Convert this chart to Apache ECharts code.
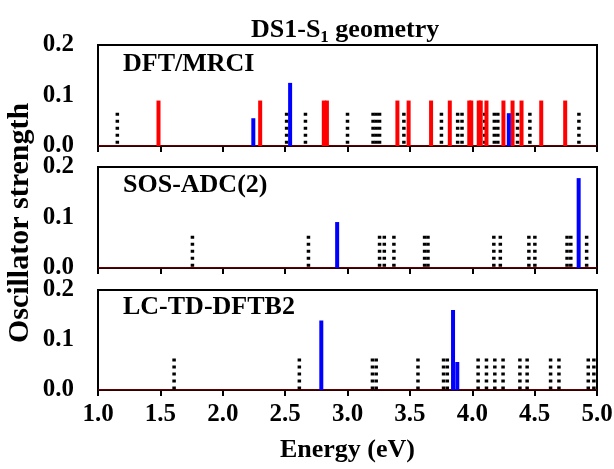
<!DOCTYPE html>
<html>
<head>
<meta charset="utf-8">
<script src="https://cdn.jsdelivr.net/npm/echarts@6/dist/echarts.min.js"></script>
<style>html,body{margin:0;padding:0;background:#fff}#c{width:614px;height:469px}</style>
</head>
<body>
<div id="c"></div>
<script>
// ---- data ----
const xRange = [1.0, 5.0];
const yRange = [0.0, 0.2];
const panelNames = ['DFT/MRCI', 'SOS-ADC(2)', 'LC-TD-DFTB2'];
const yTitle = 'Oscillator strength';
const xTitle = 'Energy (eV)';

// DFT/MRCI
const dftRedE  = [1.485, 2.30, 2.81, 2.835, 3.40, 3.49, 3.67, 3.82, 3.976, 3.992, 4.052, 4.068, 4.114, 4.25, 4.323, 4.395, 4.553, 4.745];
const dftRedF  = [0.09, 0.09, 0.09, 0.09, 0.09, 0.09, 0.09, 0.09, 0.09, 0.09, 0.09, 0.09, 0.09, 0.09, 0.09, 0.09, 0.09, 0.09];
const dftBlueE = [2.245, 2.54, 4.293];
const dftBlueF = [0.055, 0.125, 0.065];
const dftDarkE = [1.155, 2.512, 2.663, 3.0, 3.205, 3.23, 3.257, 3.452, 3.753, 3.883, 3.918, 4.10, 4.177, 4.205, 4.363, 4.462, 4.855];
const dftDarkF = [0.066, 0.066, 0.066, 0.066, 0.066, 0.066, 0.066, 0.066, 0.066, 0.066, 0.066, 0.066, 0.066, 0.066, 0.066, 0.066, 0.066];

// SOS-ADC(2)
const sosBlueE = [2.917, 4.853];
const sosBlueF = [0.091, 0.178];
const sosDarkE = [1.757, 2.687, 3.257, 3.295, 3.372, 3.618, 3.645, 4.173, 4.225, 4.454, 4.502, 4.76, 4.79, 4.917];
const sosDarkF = [0.064, 0.064, 0.064, 0.064, 0.064, 0.064, 0.064, 0.064, 0.064, 0.064, 0.064, 0.064, 0.064, 0.064];

// LC-TD-DFTB2
const lcBlueE = [2.79, 3.846, 3.88];
const lcBlueF = [0.139, 0.16, 0.056];
const lcDarkE = [1.61, 2.614, 3.20, 3.23, 3.565, 3.77, 3.80, 4.047, 4.114, 4.181, 4.247, 4.382, 4.44, 4.628, 4.695, 4.93, 4.975];
const lcDarkF = [0.063, 0.063, 0.063, 0.063, 0.063, 0.063, 0.063, 0.063, 0.063, 0.063, 0.063, 0.063, 0.063, 0.063, 0.063, 0.063, 0.063];

// ---- chart ----
const FONT = '"Liberation Serif", "Times New Roman", serif';
const pairs = (e, f) => e.map((v, i) => [v, f[i]]);

function stick(color, width, dash) {
  return function (params, api) {
    const top = api.coord([api.value(0), api.value(1)]);
    const bot = api.coord([api.value(0), 0]);
    return {
      type: 'line',
      shape: { x1: top[0], y1: top[1], x2: bot[0], y2: bot[1] },
      style: { stroke: color, lineWidth: width, lineDash: dash || null, lineCap: 'butt' }
    };
  };
}

const grids = [
  { left: 98, right: 17, top: 45, height: 101 },
  { left: 98, right: 17, top: 167, height: 101 },
  { left: 98, right: 17, top: 290, height: 100 }
].map(g => Object.assign(g, {
  show: true, borderColor: '#000', borderWidth: 2, backgroundColor: 'transparent',
  containLabel: false, outerBoundsMode: 'none'
}));

const xAxes = [0, 1, 2].map(i => ({
  type: 'value', gridIndex: i, min: xRange[0], max: xRange[1], interval: 0.5,
  axisLine: { show: true, lineStyle: { color: '#000', width: 2 } },
  axisTick: { show: true, inside: false, length: 6, lineStyle: { color: '#000', width: 2 } },
  splitLine: { show: false },
  axisLabel: {
    show: i === 2, margin: 12, color: '#000', fontFamily: FONT, fontWeight: 'bold', fontSize: 25,
    formatter: v => v.toFixed(1)
  },
  name: i === 2 ? xTitle : '', nameLocation: 'middle', nameGap: 47,
  nameTextStyle: { color: '#000', fontFamily: FONT, fontWeight: 'bold', fontSize: 26 }
}));

const yAxes = [0, 1, 2].map(i => ({
  type: 'value', gridIndex: i, min: yRange[0], max: yRange[1], interval: 0.1,
  axisLine: { show: true, lineStyle: { color: '#000', width: 2 } },
  axisTick: { show: false },
  splitLine: { show: false },
  axisLabel: {
    margin: 24, color: '#000', fontFamily: FONT, fontWeight: 'bold', fontSize: 25,
    formatter: v => v.toFixed(1)
  }
}));

const panels = [
  { dark: pairs(dftDarkE, dftDarkF), red: pairs(dftRedE, dftRedF), blue: pairs(dftBlueE, dftBlueF) },
  { dark: pairs(sosDarkE, sosDarkF), red: [], blue: pairs(sosBlueE, sosBlueF) },
  { dark: pairs(lcDarkE, lcDarkF), red: [], blue: pairs(lcBlueE, lcBlueF) }
];

const series = [];
panels.forEach((p, i) => {
  series.push({
    type: 'line', xAxisIndex: i, yAxisIndex: i, data: [[xRange[0], 0], [xRange[1], 0]],
    symbol: 'none', lineStyle: { color: '#c00000', width: 1.2 }, z: 3, silent: true
  });
  series.push({ type: 'custom', xAxisIndex: i, yAxisIndex: i, data: p.dark, renderItem: stick('#000', 3.5, [3, 4]), z: 4, silent: true });
  series.push({ type: 'custom', xAxisIndex: i, yAxisIndex: i, data: p.red, renderItem: stick('#ff0000', 4), z: 5, silent: true });
  series.push({ type: 'custom', xAxisIndex: i, yAxisIndex: i, data: p.blue, renderItem: stick('#0000ff', 4), z: 6, silent: true });
});

const labelY = [64, 185, 307];
const graphic = panelNames.map((t, i) => ({
  type: 'text', x: 123, y: labelY[i], z: 10,
  style: { text: t, fill: '#000', font: 'bold 26px ' + FONT, verticalAlign: 'middle', align: 'left' }
}));
graphic.push({
  type: 'text', x: 20, y: 223, rotation: Math.PI / 2, z: 10,
  style: { text: yTitle, fill: '#000', font: 'bold 30px ' + FONT, verticalAlign: 'middle', align: 'center' }
});

const chart = echarts.init(document.getElementById('c'), null, { renderer: 'canvas' });
chart.setOption({
  animation: false,
  backgroundColor: '#fff',
  title: {
    text: '{a|DS1-S}{s|1}{a| geometry}', left: 246, top: 8,
    textStyle: {
      rich: {
        a: { fontFamily: FONT, fontWeight: 'bold', fontSize: 26, color: '#000', lineHeight: 30, verticalAlign: 'bottom' },
        s: { fontFamily: FONT, fontWeight: 'bold', fontSize: 17, color: '#000', lineHeight: 30, verticalAlign: 'bottom', padding: [0, 0, -3, 0] }
      }
    }
  },
  grid: grids, xAxis: xAxes, yAxis: yAxes, series: series, graphic: graphic
});
</script>
</body>
</html>
